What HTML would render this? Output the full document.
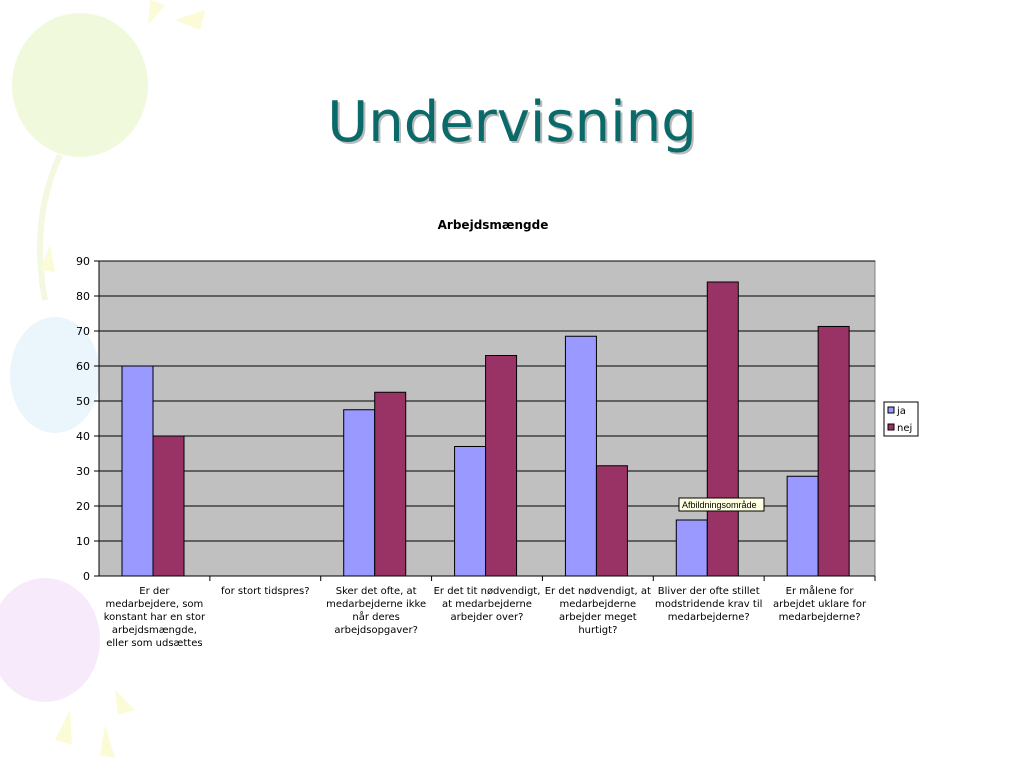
<!DOCTYPE html>
<html><head><meta charset="utf-8"><style>
body{margin:0;width:1024px;height:768px;background:#fff;overflow:hidden;font-family:"DejaVu Sans",sans-serif}
svg{position:absolute;left:0;top:0}
</style></head><body>
<svg width="1024" height="768">
<g>
<ellipse cx="80" cy="85" rx="68" ry="72" fill="#f0f9dc"/>
<path d="M60 155 Q30 220 45 300" stroke="#f2f9e0" stroke-width="6" fill="none"/>
<ellipse cx="55" cy="375" rx="45" ry="58" fill="#eaf6fc"/>
<ellipse cx="45" cy="640" rx="55" ry="62" fill="#f6eafb"/>
<polygon points="150,0 165,5 148,25" fill="#fbfbd8"/>
<polygon points="175,20 205,10 200,30" fill="#fbfbd8"/>
<polygon points="40,270 50,245 55,272" fill="#fbfbd8"/>
<polygon points="115,690 135,710 118,715" fill="#fbfbd8"/>
<polygon points="55,740 70,710 72,745" fill="#fbfbd8"/>
<polygon points="100,755 105,725 115,758" fill="#fbfbd8"/>
</g>
<text x="514" y="143" text-anchor="middle" font-size="56" fill="#bbb">Undervisning</text>
<text x="512" y="141" text-anchor="middle" font-size="56" fill="#0a6a6a">Undervisning</text>
<text x="493" y="229" text-anchor="middle" font-size="12" font-weight="bold">Arbejdsmængde</text>
<g id="chart"></g>
</svg>
<script>
const categories=[["Er der","medarbejdere, som","konstant har en stor","arbejdsmængde,","eller som udsættes"],["for stort tidspres?"],["Sker det ofte, at","medarbejderne ikke","når deres","arbejdsopgaver?"],["Er det tit nødvendigt,","at medarbejderne","arbejder over?"],["Er det nødvendigt, at","medarbejderne","arbejder meget","hurtigt?"],["Bliver der ofte stillet","modstridende krav til","medarbejderne?"],["Er målene for","arbejdet uklare for","medarbejderne?"]];
const jaValues=[60,0,47.5,37,68.5,16,28.5];
const nejValues=[40,0,52.5,63,31.5,84,71.3];
const yTicks=[0,10,20,30,40,50,60,70,80,90];
const NS="http://www.w3.org/2000/svg";
const g=document.getElementById('chart');
const X0=99,X1=875,Y0=576,Y1=261,YMAX=90;
const cw=(X1-X0)/categories.length;
const y=v=>Y0-(v/YMAX)*(Y0-Y1);
function el(t,a,p){const e=document.createElementNS(NS,t);for(const k in a)e.setAttribute(k,a[k]);(p||g).appendChild(e);return e;}
const bg=el('rect',{x:X0,y:Y1,width:X1-X0,height:Y0-Y1,fill:'#c0c0c0',stroke:'#808080'});


yTicks.forEach(t=>{
 const l=el('line',{x1:X0-5,x2:X1,y1:y(t),y2:y(t),stroke:'#000','stroke-width':1});
 
 
 const tx=el('text',{x:X0-9,y:y(t)+4,'text-anchor':'end','font-size':11});
 tx.textContent=t;
 
 
});
el('line',{x1:X0,x2:X0,y1:Y1,y2:Y0,stroke:'#000'});
el('line',{x1:X0,x2:X1,y1:Y0,y2:Y0,stroke:'#000'});
categories.forEach((c,i)=>{
 const cx=X0+cw*i;
 el('line',{x1:cx+cw,x2:cx+cw,y1:Y0,y2:Y0+5,stroke:'#000'});
 const bw=31;
 if(jaValues[i]>0){const r=el('rect',{x:cx+23,y:y(jaValues[i]),width:bw,height:Y0-y(jaValues[i]),fill:'#9999ff',stroke:'#000'});
 
 }
 if(nejValues[i]>0){const r=el('rect',{x:cx+23+bw,y:y(nejValues[i]),width:bw,height:Y0-y(nejValues[i]),fill:'#993366',stroke:'#000'});
 
 }
 c.forEach((ln,j)=>{const t=el('text',{x:cx+cw/2,y:594+j*13,'text-anchor':'middle','font-size':10});t.textContent=ln;
 
 });
});
</script>
<svg width="1024" height="768" style="pointer-events:none">
<g>
<rect x="884" y="402" width="34" height="34" fill="#fff" stroke="#000"/>
<rect x="888" y="407" width="6" height="6" fill="#9999ff" stroke="#000"/>
<text x="897" y="414" font-size="10">ja</text>
<rect x="888" y="424" width="6" height="6" fill="#993366" stroke="#000"/>
<text x="897" y="431" font-size="10">nej</text>
</g>
<g>
<rect x="679" y="498" width="85" height="13" fill="#ffffe1" stroke="#000"/>
<text x="682" y="508" font-size="9" font-family="Liberation Sans">Afbildningsområde</text>
</g>
</svg>
</body></html>
